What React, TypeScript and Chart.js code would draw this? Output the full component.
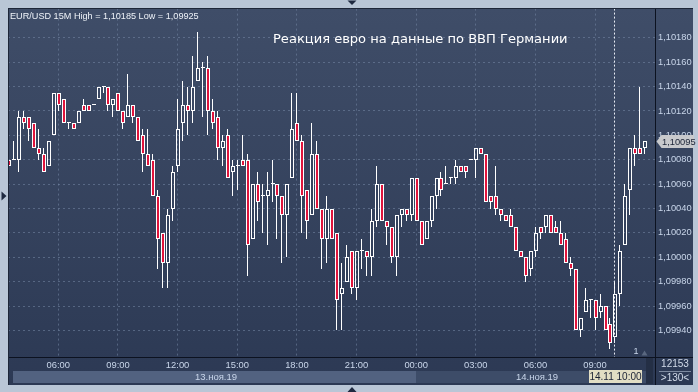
import React, { useEffect, useRef } from 'react';
import { Chart, registerables } from 'chart.js';

Chart.register(...registerables);

const W = 698;
const H = 392;

// EUR/USD 15-minute bars, 13.11.2019 03:30 ... 14.11.2019 11:00
const opens = [
  1.1008, 1.1008, 1.1008, 1.10115, 1.10115, 1.1011, 1.1009, 1.10085, 1.10075, 1.101,
  1.10135, 1.1013, 1.1011, 1.1011, 1.1011, 1.10125, 1.10125, 1.10125, 1.1013, 1.1014,
  1.1014, 1.10125, 1.10135, 1.1012, 1.10115, 1.10125, 1.10115, 1.101, 1.10085, 1.1008,
  1.1005, 1.1002, 1.09995, 1.1004, 1.10075, 1.1011, 1.10125, 1.1012, 1.10145, 1.10155,
  1.10155, 1.1012, 1.10115, 1.1009, 1.101, 1.1007, 1.10075, 1.1008, 1.1008, 1.10015,
  1.1006, 1.1005, 1.1005, 1.1006, 1.1006, 1.1005, 1.10035, 1.10065, 1.1011, 1.10095,
  1.10055, 1.10035, 1.10085, 1.1004, 1.10015, 1.1004, 1.1002, 1.0997, 1.0998, 1.10005,
  1.09975, 1.10005, 1.10005, 1.1, 1.1003, 1.1006, 1.1003, 1.10025, 1.1, 1.10035,
  1.1004, 1.10035, 1.10065, 1.1003, 1.10015, 1.1003, 1.1005, 1.10065, 1.1006, 1.10065,
  1.10065, 1.10075, 1.10075, 1.1008, 1.1008, 1.1009, 1.10085, 1.1005, 1.1005, 1.1004,
  1.10035, 1.10035, 1.10025, 1.10005, 1.1, 1.0999, 1.10005, 1.10025, 1.10025, 1.10035,
  1.10025, 1.1002, 1.10015, 1.09995, 1.0999, 1.0994, 1.09955, 1.09965, 1.09965, 1.09955,
  1.0996, 1.09945, 1.09935, 1.0997, 1.1001, 1.10055, 1.1009, 1.1009, 1.1009,
];
const highs = [
  1.1008, 1.10095, 1.1012, 1.1012, 1.10115, 1.1011, 1.10105, 1.1009, 1.10095, 1.10135,
  1.10135, 1.1013, 1.1011, 1.1011, 1.1012, 1.1013, 1.10125, 1.10125, 1.1014, 1.1014,
  1.1014, 1.1013, 1.10135, 1.1012, 1.1015, 1.10125, 1.10115, 1.10105, 1.10105, 1.10085,
  1.10055, 1.1002, 1.1004, 1.10075, 1.1013, 1.10145, 1.1014, 1.10165, 1.10185, 1.1016,
  1.10165, 1.1013, 1.1012, 1.101, 1.10105, 1.1008, 1.1008, 1.101, 1.10085, 1.1006,
  1.1007, 1.1006, 1.1007, 1.1008, 1.1006, 1.1005, 1.1006, 1.10135, 1.10135, 1.101,
  1.10055, 1.1011, 1.10095, 1.1004, 1.1005, 1.1004, 1.1002, 1.09995, 1.1001, 1.10005,
  1.10005, 1.10015, 1.10005, 1.1004, 1.10075, 1.1006, 1.1003, 1.10025, 1.10035, 1.1004,
  1.1004, 1.10065, 1.10065, 1.1003, 1.1003, 1.1005, 1.10065, 1.1007, 1.10075, 1.10065,
  1.1008, 1.10075, 1.10075, 1.1008, 1.1009, 1.1009, 1.10085, 1.1005, 1.10075, 1.1004,
  1.10035, 1.1004, 1.10025, 1.10005, 1.1, 1.10005, 1.10025, 1.10025, 1.10035, 1.10035,
  1.1003, 1.1003, 1.1002, 1.1, 1.0999, 1.0995, 1.09975, 1.09965, 1.09965, 1.0997,
  1.0996, 1.0995, 1.0998, 1.1001, 1.1006, 1.1009, 1.101, 1.1014, 1.10095,
];
const lows = [
  1.10075, 1.1008, 1.1007, 1.10105, 1.10095, 1.1009, 1.1008, 1.1007, 1.10075, 1.101,
  1.1012, 1.1011, 1.10105, 1.10105, 1.1011, 1.1012, 1.1012, 1.10125, 1.1013, 1.10135,
  1.1012, 1.10115, 1.1012, 1.10105, 1.10115, 1.1011, 1.10095, 1.1007, 1.10075, 1.1005,
  1.0999, 1.09975, 1.09975, 1.1003, 1.1007, 1.10095, 1.101, 1.1011, 1.10145, 1.10115,
  1.101, 1.10105, 1.1008, 1.10075, 1.10065, 1.1005, 1.10055, 1.10075, 1.09985, 1.10015,
  1.1003, 1.1002, 1.1001, 1.10045, 1.10015, 1.09995, 1.1, 1.10065, 1.10095, 1.1002,
  1.10015, 1.10035, 1.1004, 1.0999, 1.09995, 1.10015, 1.0994, 1.0994, 1.0998, 1.0997,
  1.09965, 1.0999, 1.09985, 1.09985, 1.10025, 1.1003, 1.1001, 1.09995, 1.09985, 1.10025,
  1.1003, 1.1003, 1.1003, 1.1001, 1.10015, 1.10025, 1.1004, 1.1005, 1.1006, 1.1006,
  1.1006, 1.1007, 1.10065, 1.1008, 1.10065, 1.10085, 1.10045, 1.1004, 1.10035, 1.1003,
  1.1003, 1.10025, 1.10005, 1.1, 1.0998, 1.09985, 1.1, 1.10015, 1.1002, 1.1002,
  1.1002, 1.1001, 1.09995, 1.09985, 1.0994, 1.09935, 1.09955, 1.0995, 1.0994, 1.0995,
  1.0994, 1.09925, 1.0993, 1.0996, 1.1001, 1.10035, 1.10075, 1.10085, 1.10085,
];
const closes = [
  1.10075, 1.1008, 1.10115, 1.1011, 1.10105, 1.1009, 1.10085, 1.1007, 1.10095, 1.10135,
  1.10125, 1.1011, 1.1011, 1.10105, 1.1012, 1.1012, 1.1012, 1.10125, 1.1014, 1.1014,
  1.10125, 1.1013, 1.1012, 1.1011, 1.10125, 1.10115, 1.10095, 1.10085, 1.10075, 1.1005,
  1.10015, 1.09995, 1.10035, 1.1007, 1.10105, 1.10125, 1.1012, 1.1014, 1.10155, 1.10155,
  1.1012, 1.1011, 1.1009, 1.10095, 1.10065, 1.10075, 1.10075, 1.10075, 1.1001, 1.1006,
  1.10045, 1.1005, 1.10055, 1.1006, 1.1005, 1.10035, 1.1006, 1.10105, 1.10095, 1.1005,
  1.1003, 1.10085, 1.1004, 1.10015, 1.1004, 1.10015, 1.09965, 1.09975, 1.1, 1.09975,
  1.10005, 1.10005, 1.1, 1.1003, 1.1006, 1.1003, 1.10025, 1.1, 1.10035, 1.1004,
  1.10035, 1.10065, 1.1003, 1.1001, 1.1003, 1.1005, 1.10065, 1.10055, 1.1006, 1.10065,
  1.10075, 1.1007, 1.1007, 1.1008, 1.1009, 1.10085, 1.10045, 1.10045, 1.1004, 1.10035,
  1.1003, 1.10025, 1.10005, 1.1, 1.09985, 1.10005, 1.1002, 1.1002, 1.10035, 1.1002,
  1.1002, 1.1001, 1.09995, 1.0999, 1.0994, 1.0995, 1.09965, 1.09965, 1.0995, 1.0996,
  1.0994, 1.0993, 1.0997, 1.10005, 1.1005, 1.1009, 1.10085, 1.10085, 1.10095,
];

const priceTicks = [
  1.0994, 1.0996, 1.0998, 1.1, 1.1002, 1.1004, 1.1006, 1.1008, 1.101, 1.1012, 1.1014, 1.1016, 1.1018,
];
const timeTickBars = [10, 22, 34, 46, 58, 70, 82, 94, 106, 118];
const timeTickLabels = ['06:00', '09:00', '12:00', '15:00', '18:00', '21:00', '00:00', '03:00', '06:00', '09:00'];
const dateLabels = ['13.ноя.19', '14.ноя.19'];
const cursorBar = 122;
const cursorLabel = '14.11 10:00';
const symbolLabel = 'EUR/USD 15M';
const chartTitle = 'Реакция евро на данные по ВВП Германии';
const barsTotalLabel = '12153';
const scaleLabel = '>130<';

const RED = '#e0143c';
const WHITE = '#ffffff';
const AXIS_TEXT = '#c9d6ea';
const GRID = 'rgba(118,136,165,0.55)';
const FONT = '"Liberation Sans", Arial, sans-serif';

const fmt = (v: number) => v.toFixed(5).replace('.', ',');

function fitFont(ctx: CanvasRenderingContext2D, text: string, family: string, width: number) {
  ctx.font = `20px ${family}`;
  const w = ctx.measureText(text).width;
  return (20 * width) / w;
}

const decor = {
  id: 'decor',
  beforeDraw(chart: any) {
    const { ctx } = chart;
    ctx.save();
    ctx.fillStyle = '#b9c6d6';
    ctx.fillRect(0, 0, W, H);
    const g = ctx.createLinearGradient(0, 8, 0, 385);
    g.addColorStop(0, '#3f4d68');
    g.addColorStop(1, '#2c3954');
    ctx.fillStyle = g;
    ctx.fillRect(8, 8, 685, 377);
    // date strip
    ctx.fillStyle = '#526280';
    ctx.fillRect(13, 371, 403, 12);
    ctx.fillStyle = '#3d4c68';
    ctx.fillRect(416, 371, 230, 12);
    // scroll thumb
    ctx.fillStyle = '#242f45';
    ctx.fillRect(646, 358, 7, 26);
    ctx.restore();
  },
  beforeDatasetsDraw(chart: any) {
    // snap the library-computed bar geometry to whole device pixels
    chart.data.datasets.forEach((_ds: any, di: number) => {
      const meta = chart.getDatasetMeta(di);
      meta.data.forEach((el: any) => {
        el.x = di === 0 ? Math.floor(el.x) + 1 : Math.floor(el.x) + 0.5;
        const y = Math.round(el.y);
        let base = Math.round(el.base);
        if (di === 0 && Math.abs(y - base) < 1) base = y + 1;
        el.y = y;
        el.base = base;
      });
    });
  },
  afterDraw(chart: any) {
    const { ctx, chartArea: a, scales } = chart;
    const xs = scales.x;
    const ys = scales.y;
    ctx.save();
    // cursor line
    const cx = Math.floor(xs.getPixelForValue(cursorBar)) + 0.5;
    ctx.strokeStyle = '#e8ecf4';
    ctx.lineWidth = 1;
    ctx.setLineDash([2, 2]);
    ctx.beginPath();
    ctx.moveTo(cx, a.top);
    ctx.lineTo(cx, a.bottom);
    ctx.stroke();
    ctx.setLineDash([]);

    // frame lines
    ctx.strokeStyle = '#0c1220';
    ctx.beginPath();
    ctx.moveTo(a.right + 0.5, 8);
    ctx.lineTo(a.right + 0.5, 385);
    ctx.moveTo(8, a.bottom + 0.5);
    ctx.lineTo(693, a.bottom + 0.5);
    ctx.stroke();
    ctx.strokeStyle = '#1d2638';
    ctx.beginPath();
    ctx.moveTo(8, 8.5);
    ctx.lineTo(693, 8.5);
    ctx.moveTo(8.5, 8);
    ctx.lineTo(8.5, 385);
    ctx.stroke();

    // header
    const hi = Math.max(...highs);
    const lo = Math.min(...lows);
    const header = `${symbolLabel} High = ${fmt(hi)} Low = ${fmt(lo)}`;
    let fs = fitFont(ctx, header, FONT, 189);
    ctx.font = `${fs}px ${FONT}`;
    ctx.fillStyle = '#eef2f8';
    ctx.textAlign = 'left';
    ctx.textBaseline = 'alphabetic';
    ctx.fillText(header, 10, 18.5);

    // title
    fs = fitFont(ctx, chartTitle, '"DejaVu Sans"', 295);
    ctx.font = `${fs}px "DejaVu Sans"`;
    ctx.fillStyle = '#ffffff';
    ctx.fillText(chartTitle, 273, 43);

    // date labels
    ctx.font = `9.5px ${FONT}`;
    ctx.fillStyle = AXIS_TEXT;
    ctx.textAlign = 'center';
    ctx.textBaseline = 'middle';
    ctx.fillText(dateLabels[0], 216, 377.5);
    ctx.fillText(dateLabels[1], 537, 377.5);

    // cursor time box
    ctx.fillStyle = '#e2dec4';
    ctx.fillRect(589, 370, 53, 13);
    ctx.fillStyle = '#1a2235';
    ctx.font = `10px ${FONT}`;
    ctx.fillText(cursorLabel, 615.5, 377);

    // last price tag
    const last = closes[closes.length - 1];
    const py = Math.round(ys.getPixelForValue(last)) + 0.5;
    ctx.fillStyle = '#c8c9cc';
    ctx.beginPath();
    ctx.moveTo(656.5, py);
    ctx.lineTo(661.5, py - 6.5);
    ctx.lineTo(694, py - 6.5);
    ctx.lineTo(694, py + 6.5);
    ctx.lineTo(661.5, py + 6.5);
    ctx.closePath();
    ctx.fill();
    ctx.fillStyle = '#1a2235';
    ctx.font = `9.3px ${FONT}`;
    ctx.textAlign = 'left';
    ctx.fillText(fmt(last), 662, py + 0.5);

    // bottom-right box
    ctx.fillStyle = '#d3dcea';
    ctx.textAlign = 'center';
    ctx.font = `10px ${FONT}`;
    ctx.fillText(barsTotalLabel, 675, 364.5);
    ctx.fillText(scaleLabel, 675, 378.5);
    ctx.strokeStyle = '#7d8aa0';
    ctx.beginPath();
    ctx.moveTo(659, 371.5);
    ctx.lineTo(691, 371.5);
    ctx.stroke();

    // small marker "1"
    ctx.fillStyle = '#c9d6ea';
    ctx.font = `9px ${FONT}`;
    ctx.fillText('1', 636, 352);
    ctx.fillStyle = '#59677f';
    ctx.beginPath();
    ctx.moveTo(641.5, 355.5);
    ctx.lineTo(647.5, 355.5);
    ctx.lineTo(644.5, 350.5);
    ctx.closePath();
    ctx.fill();

    // frame triangles
    ctx.fillStyle = '#1e2940';
    ctx.beginPath();
    ctx.moveTo(1.5, 191.5);
    ctx.lineTo(6.5, 196);
    ctx.lineTo(1.5, 200.5);
    ctx.closePath();
    ctx.fill();
    ctx.beginPath();
    ctx.moveTo(347.5, 0.5);
    ctx.lineTo(356.5, 0.5);
    ctx.lineTo(352, 5);
    ctx.closePath();
    ctx.fill();
    ctx.beginPath();
    ctx.moveTo(347.5, 392);
    ctx.lineTo(356.5, 392);
    ctx.lineTo(352, 387);
    ctx.closePath();
    ctx.fill();
    ctx.restore();
  },
};

export default function App() {
  const ref = useRef<HTMLCanvasElement | null>(null);
  useEffect(() => {
    document.body.style.margin = '0';
    const canvas = ref.current;
    if (!canvas) return;
    const idx = opens.map((_, i) => i);
    const chart = new Chart(canvas, {
      type: 'bar',
      data: {
        datasets: [
          {
            label: 'body',
            data: idx.map((i) => ({ x: i, y: [opens[i], closes[i]] })) as any,
            backgroundColor: idx.map((i) => (closes[i] < opens[i] ? RED : 'rgba(0,0,0,0)')),
            borderColor: WHITE,
            borderWidth: 1,
            borderSkipped: false,
            barThickness: 4,
            minBarLength: 1,
            inflateAmount: 0,
            grouped: false,
          } as any,
          {
            label: 'upper wick',
            data: idx.map((i) => ({ x: i, y: [Math.max(opens[i], closes[i]), highs[i]] })) as any,
            backgroundColor: WHITE,
            borderWidth: 0,
            barThickness: 1,
            inflateAmount: 0,
            grouped: false,
          } as any,
          {
            label: 'lower wick',
            data: idx.map((i) => ({ x: i, y: [lows[i], Math.min(opens[i], closes[i])] })) as any,
            backgroundColor: WHITE,
            borderWidth: 0,
            barThickness: 1,
            inflateAmount: 0,
            grouped: false,
          } as any,
        ],
      },
      options: {
        animation: false,
        responsive: false,
        events: [],
        layout: { padding: { left: 8, top: 8, right: 0, bottom: 0 } },
        plugins: {
          legend: { display: false },
          tooltip: { enabled: false },
          title: { display: false },
        },
        scales: {
          x: {
            type: 'linear',
            position: 'bottom',
            min: -0.12,
            max: 130.06,
            offset: false,
            afterBuildTicks: (s: any) => {
              s.ticks = timeTickBars.map((v) => ({ value: v }));
            },
            afterFit: (s: any) => {
              s.height = 35;
            },
            ticks: {
              callback: (_v: any, i: number) => timeTickLabels[i],
              color: AXIS_TEXT,
              font: { family: FONT, size: 9.4 },
              padding: 3,
              maxRotation: 0,
              autoSkip: false,
            },
            grid: { color: GRID, lineWidth: 1, drawTicks: false, offset: false },
            border: { display: false, dash: [2, 3] },
          },
          y: {
            type: 'linear',
            position: 'right',
            min: 1.0991819,
            max: 1.1020402,
            afterBuildTicks: (s: any) => {
              s.ticks = priceTicks.map((v) => ({ value: v }));
            },
            afterFit: (s: any) => {
              s.width = 43;
            },
            ticks: {
              callback: (v: any) => fmt(Number(v)),
              color: AXIS_TEXT,
              font: { family: FONT, size: 9.3 },
              padding: 3,
              autoSkip: false,
            },
            grid: { color: GRID, lineWidth: 1, drawTicks: false },
            border: { display: false, dash: [2, 3] },
          },
        },
      } as any,
      plugins: [decor],
    });
    return () => chart.destroy();
  }, []);
  return (
    <div style={{ width: W, height: H }}>
      <canvas ref={ref} width={W} height={H} style={{ display: 'block', width: W, height: H }} />
    </div>
  );
}
